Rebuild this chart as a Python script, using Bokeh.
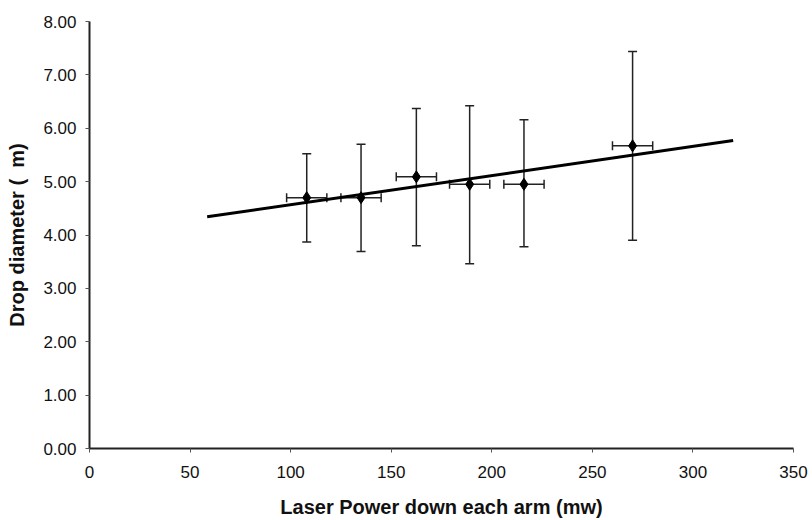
from bokeh.plotting import figure
from bokeh.models import ColumnDataSource, Whisker, TeeHead, Range1d, FixedTicker, NumeralTickFormatter
from bokeh.embed import file_html
from bokeh.resources import INLINE

# Data
power = [108, 135, 162.5, 189, 216, 270]           # mW
diameter = [4.70, 4.70, 5.09, 4.95, 4.95, 5.67]    # drop diameter
y_upper = [5.52, 5.70, 6.37, 6.42, 6.16, 7.44]
y_lower = [3.87, 3.69, 3.80, 3.46, 3.78, 3.90]
x_err = [10, 10, 10, 10, 10, 10]
trend_x = [58.5, 320]
trend_y = [4.34, 5.77]
x_ticks = [0, 50, 100, 150, 200, 250, 300, 350]
y_ticks = [0, 1, 2, 3, 4, 5, 6, 7, 8]

src = ColumnDataSource(dict(
    x=power, y=diameter, yu=y_upper, yl=y_lower,
    xl=[a - b for a, b in zip(power, x_err)],
    xu=[a + b for a, b in zip(power, x_err)],
))

p = figure(width=812, height=520, output_backend="svg", toolbar_location=None,
           x_range=Range1d(0, 350), y_range=Range1d(0, 8),
           min_border_left=89, min_border_right=19, min_border_top=21, min_border_bottom=71)
p.outline_line_color = None
p.xgrid.grid_line_color = None
p.ygrid.grid_line_color = None
p.background_fill_color = "white"
p.border_fill_color = "white"

font = "Liberation Sans"
for ax in (p.xaxis[0], p.yaxis[0]):
    ax.axis_line_color = "#222222"
    ax.axis_line_width = 2
    ax.major_tick_line_color = "#555555"
    ax.major_tick_line_width = 1
    ax.major_tick_in = 0
    ax.major_tick_out = 4
    ax.minor_tick_line_color = None
    ax.major_label_text_font = font
    ax.major_label_text_font_size = "17px"
    ax.major_label_text_color = "#111111"
    ax.axis_label_text_font = font
    ax.axis_label_text_font_size = "20px"
    ax.axis_label_text_font_style = "bold"
    ax.axis_label_text_color = "#111111"

p.xaxis.ticker = FixedTicker(ticks=x_ticks)
p.yaxis.ticker = FixedTicker(ticks=y_ticks)
p.yaxis.formatter = NumeralTickFormatter(format="0.00")
p.xaxis.major_label_standoff = 13
p.yaxis.major_label_standoff = 9
p.xaxis.axis_label = "Laser Power down each arm (mw)"
p.yaxis.axis_label = "Drop diameter (\u00a0\u00a0m)"
p.xaxis.axis_label_standoff = 15
p.yaxis.axis_label_standoff = 12

# trend line
p.line(trend_x, trend_y, line_color="black", line_width=3)

# error bars
vw = Whisker(source=src, base="x", upper="yu", lower="yl", dimension="height",
             line_color="#222222", line_width=1.5,
             upper_head=TeeHead(size=9, line_color="#222222", line_width=1.5),
             lower_head=TeeHead(size=9, line_color="#222222", line_width=1.5))
hw = Whisker(source=src, base="y", upper="xu", lower="xl", dimension="width",
             line_color="#222222", line_width=1.5,
             upper_head=TeeHead(size=9, line_color="#222222", line_width=1.5),
             lower_head=TeeHead(size=9, line_color="#222222", line_width=1.5))
p.add_layout(vw)
p.add_layout(hw)

p.scatter("x", "y", source=src, marker="diamond", size=12, fill_color="black", line_color="black")

open("out.html", "w").write(file_html(p, INLINE))
